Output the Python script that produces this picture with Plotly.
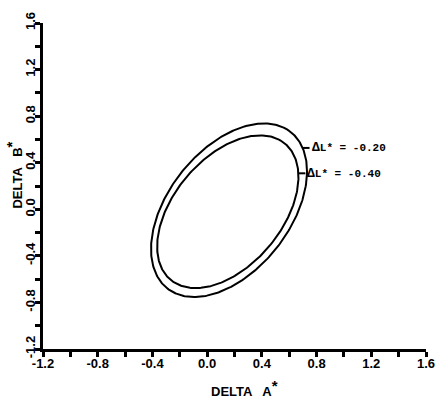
import numpy as np
import plotly.graph_objects as go

# Tolerance ellipses (data units): center, semi-axes, tilt angle (deg)
ellipse_names = ["ΔL* = -0.20", "ΔL* = -0.40"]
ellipse_cx = [0.16, 0.151]
ellipse_cy = [-0.008, -0.021]
ellipse_a = [0.814, 0.7235]
ellipse_b = [0.467, 0.4165]
ellipse_angle = [60.6, 58.9]
label_y = [0.527, 0.309]

tick_vals = [round(-1.2 + 0.2 * i, 1) for i in range(15)]
tick_text = ["-1.2", "", "-0.8", "", "-0.4", "", "0.0", "", "0.4", "", "0.8", "", "1.2", "", "1.6"]

fig = go.Figure()
t = np.linspace(0, 2 * np.pi, 361)
label_anchor_x = []
for cx, cy, a, b, ang, ly in zip(ellipse_cx, ellipse_cy, ellipse_a, ellipse_b, ellipse_angle, label_y):
    th = np.radians(ang)
    x = cx + a * np.cos(t) * np.cos(th) - b * np.sin(t) * np.sin(th)
    y = cy + a * np.cos(t) * np.sin(th) + b * np.sin(t) * np.cos(th)
    fig.add_trace(go.Scatter(x=x, y=y, mode="lines", line=dict(color="black", width=2),
                             hoverinfo="skip", showlegend=False))
    mask = x > cx
    idx = np.argmin(np.abs(np.where(mask, y, 1e9) - ly))
    label_anchor_x.append(x[idx])

for name, ax_, ly in zip(ellipse_names, label_anchor_x, label_y):
    fig.add_shape(type="line", xref="x", yref="y", xsizemode="pixel", xanchor=ax_,
                  x0=0, x1=7, y0=ly, y1=ly, line=dict(color="black", width=2))
    fig.add_annotation(x=ax_, y=ly, xref="x", yref="y", xanchor="left", yanchor="middle",
                       xshift=7, showarrow=False,
                       text="<b><span style='font-size:13px'>Δ</span>" + name[1:] + "</b>",
                       font=dict(family="Liberation Mono", size=11, color="black"))

axis_common = dict(
    tickvals=tick_vals, ticktext=tick_text, ticks="outside", ticklen=5, tickwidth=2.5,
    tickcolor="black", showline=True, linecolor="black", linewidth=3, showgrid=False,
    zeroline=False, mirror=False,
    tickfont=dict(family="Liberation Sans", size=13, color="black", weight="bold"),
)
fig.update_xaxes(range=[-1.2, 1.6], ticklabelstandoff=-5, **axis_common)
fig.update_yaxes(range=[-1.2, 1.6], tickangle=-90, ticklabelstandoff=-5, **axis_common)

fig.add_annotation(xref="paper", yref="paper", x=0.526, y=-0.12, xanchor="center", yanchor="middle",
                   showarrow=False,
                   text="<b>DELTA   A<sup><span style='font-size:15px'>*</span></sup></b>",
                   font=dict(family="Liberation Sans", size=13, color="black"))
fig.add_annotation(xref="paper", yref="paper", x=-0.075, y=0.533, xanchor="center", yanchor="middle",
                   showarrow=False, textangle=-90,
                   text="<b>DELTA   B<sup><span style='font-size:15px'>*</span></sup></b>",
                   font=dict(family="Liberation Sans", size=13, color="black"))

fig.update_layout(width=447, height=399, margin=dict(l=43, r=14, t=13, b=50),
                  plot_bgcolor="white", paper_bgcolor="white")
fig.write_html("out.html")
